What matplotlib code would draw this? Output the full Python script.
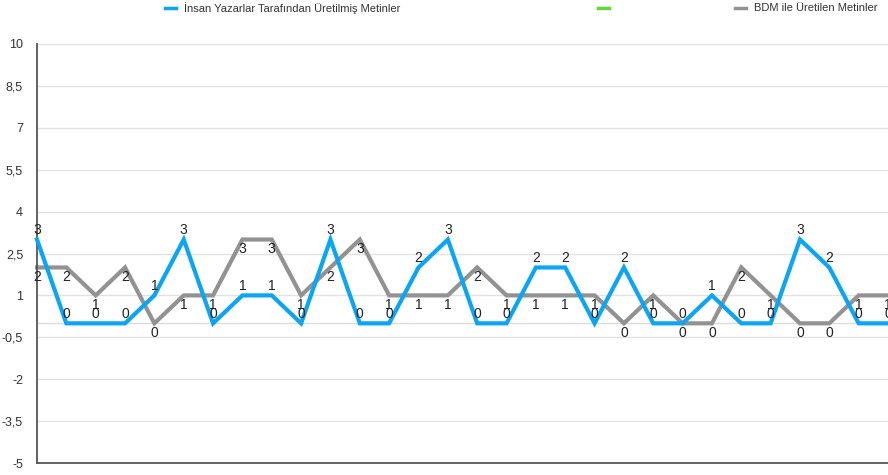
import numpy as np
import matplotlib
matplotlib.use("Agg")
import matplotlib.pyplot as plt
from matplotlib.lines import Line2D

plt.rcParams['font.family'] = ['Liberation Sans', 'DejaVu Sans']

# degerler
insan = [3, 0, 0, 0, 1, 3, 0, 1, 1, 0, 3, 0, 0, 2, 3, 0, 0, 2, 2, 0,
         2, 0, 0, 1, 0, 0, 3, 2, 0, 0]
bdm = [2, 2, 1, 2, 0, 1, 1, 3, 3, 1, 2, 3, 1, 1, 1, 2, 1, 1, 1, 1,
       0, 1, 0, 0, 2, 1, 0, 0, 1, 1]
seri_adlari = ["İnsan Yazarlar Tarafından Üretilmiş Metinler", "", "BDM ile Üretilen Metinler"]
y_ticks = [10, 8.5, 7, 5.5, 4, 2.5, 1, -0.5, -2, -3.5, -5]

MAVI = "#0aa5f5"
YESIL = "#61d836"
GRI = "#929292"

W, H = 888, 475
fig = plt.figure(figsize=(W / 100, H / 100), dpi=100)
ax = fig.add_axes([37 / W, (H - 463) / H, (W - 37) / W, (463 - 44) / H])

x = np.arange(len(insan))

# grid
for t in y_ticks:
    ax.axhline(t, color="#e2e2e2", lw=1.0, zorder=0)
ax.axhline(0, color="#dcdcdc", lw=1.0, zorder=0)

ax.plot(x, bdm, color=GRI, lw=3, solid_joinstyle="miter", zorder=2, clip_on=False)
ax.plot(x, insan, color=MAVI, lw=3, solid_joinstyle="miter", zorder=3, clip_on=False)

for xi, v in zip(x, insan):
    ax.annotate(str(v), (xi, v), xytext=(0, 7), textcoords="offset points",
                ha="center", va="center", fontsize=10, color="#222222",
                zorder=4, annotation_clip=False)
for xi, v in zip(x, bdm):
    ax.annotate(str(v), (xi, v), xytext=(0, -7), textcoords="offset points",
                ha="center", va="center", fontsize=10, color="#222222",
                zorder=4, annotation_clip=False)

ax.set_xlim(0, len(insan) - 1)
ax.set_ylim(-5, 10)
ax.set_yticks(y_ticks)
ax.set_yticklabels([str(t).replace(".", ",") if t != int(t) else str(int(t)) for t in y_ticks],
                   fontsize=9, color="#333333")
ax.tick_params(axis="y", length=0, pad=10)
ax.set_xticks([])
for s in ["top", "right"]:
    ax.spines[s].set_visible(False)
for s in ["left", "bottom"]:
    ax.spines[s].set_color("#555555")
    ax.spines[s].set_linewidth(1.3)

# lejant
ly = 1 - 8 / H
for (x0, renk, ad) in [(165, MAVI, seri_adlari[0]), (598, YESIL, seri_adlari[1]), (735, GRI, seri_adlari[2])]:
    fig.add_artist(Line2D([x0 / W, (x0 + 11) / W], [ly, ly], color=renk, lw=2.5,
                          transform=fig.transFigure))
    if ad:
        fig.text((x0 + 19) / W, ly, ad, fontsize=8, color="#333333", va="center", ha="left")

fig.savefig("out.png", dpi=100)
